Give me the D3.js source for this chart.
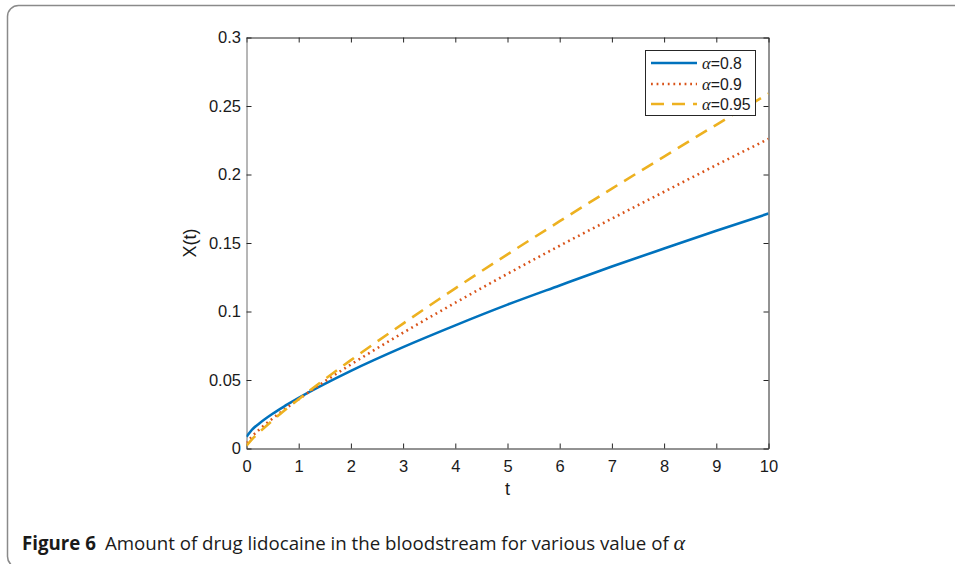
<!DOCTYPE html>
<html><head><meta charset="utf-8">
<script src="https://cdn.jsdelivr.net/npm/d3@7"></script>
<style>
body{margin:0;background:#fff;}
svg{display:block;}
</style></head>
<body>
<svg id="c" width="955" height="564"></svg>
<script>
const tValues = [0, 0.1, 0.25, 0.5, 0.75, 1, 1.5, 2, 3, 4, 5, 6, 7, 8, 9, 10];
const series08 = [0.0085, 0.0135, 0.0185, 0.0254, 0.0314, 0.037, 0.0472, 0.0567, 0.074, 0.0899, 0.105, 0.119, 0.1328, 0.146, 0.159, 0.1715];
const series09 = [0.004, 0.0086, 0.014, 0.0219, 0.0291, 0.036, 0.049, 0.0613, 0.0845, 0.1064, 0.1275, 0.148, 0.1678, 0.1874, 0.2069, 0.226];
const series095 = [0.002, 0.0065, 0.012, 0.0205, 0.0284, 0.036, 0.0506, 0.0645, 0.0912, 0.1169, 0.1417, 0.1659, 0.1897, 0.2131, 0.2363, 0.259];
const seriesNames = ["0.8", "0.9", "0.95"];
const xTicks = [0,1,2,3,4,5,6,7,8,9,10];
const yTicks = [0,0.05,0.1,0.15,0.2,0.25,0.3];
const yTickLabels = ["0","0.05","0.1","0.15","0.2","0.25","0.3"];

const svg = d3.select("#c");
const L = 246.5, R = 768.5, T = 37.5, B = 448.5;
const x = d3.scaleLinear().domain([0,10]).range([L,R]);
const y = d3.scaleLinear().domain([0,0.3]).range([B,T]);

// outer frame
svg.append("rect").attr("x",7.5).attr("y",5.5).attr("width",980).attr("height",562)
  .attr("rx",11).attr("fill","none").attr("stroke","#8a8a8a").attr("stroke-width",1.5);

const font = "'Liberation Sans', Arial, sans-serif";
const axCol = "#262626";
const tickFs = 16.5;

// axes
const xb = svg.append("g").attr("transform",`translate(0,${B})`)
  .call(d3.axisBottom(x).tickValues(xTicks).tickFormat(d3.format("d")).tickSizeInner(-5).tickSizeOuter(0).tickPadding(11.5));
const xt = svg.append("g").attr("transform",`translate(0,${T})`)
  .call(d3.axisTop(x).tickValues(xTicks).tickFormat("").tickSizeInner(-5).tickSizeOuter(0));
const yl = svg.append("g").attr("transform",`translate(${L},0)`)
  .call(d3.axisLeft(y).tickValues(yTicks).tickFormat((d,i)=>yTickLabels[i]).tickSizeInner(-5).tickSizeOuter(0).tickPadding(5.5));
const yr = svg.append("g").attr("transform",`translate(${R},0)`)
  .call(d3.axisRight(y).tickValues(yTicks).tickFormat("").tickSizeInner(-5).tickSizeOuter(0));
[xb,xt,yl,yr].forEach(g=>{
  g.attr("font-size",tickFs).attr("font-family",font);
  g.selectAll("path").attr("stroke",axCol).attr("stroke-width",1);
  g.selectAll("line").attr("stroke",axCol).attr("stroke-width",1);
  g.selectAll("text").attr("fill","#1a1a1a").attr("font-family",font).attr("font-size",tickFs);
});
yl.select("path").attr("stroke","#6e6e6e");

// axis labels
svg.append("text").attr("x",(L+R)/2).attr("y",495).attr("text-anchor","middle")
  .attr("font-family",font).attr("font-size",18).attr("fill","#1a1a1a").text("t");
svg.append("text").attr("transform",`translate(196,${(T+B)/2}) rotate(-90)`).attr("text-anchor","middle")
  .attr("font-family",font).attr("font-size",18).attr("fill","#1a1a1a").text("X(t)");

// lines
const styles = [
  {data:series08, color:"#0072BD", dash:null, w:2.6},
  {data:series09, color:"#D95319", dash:"1.8,3.8", w:2.6},
  {data:series095, color:"#EDB120", dash:"13,8", w:2.6}
];
const line = d3.line().x(d=>x(d[0])).y(d=>y(d[1])).curve(d3.curveMonotoneX);
svg.append("clipPath").attr("id","pc").append("rect").attr("x",L).attr("y",T).attr("width",R-L).attr("height",B-T);
styles.forEach(s=>{
  svg.append("path").datum(tValues.map((t,i)=>[t,s.data[i]]))
    .attr("d",line).attr("fill","none").attr("stroke",s.color).attr("stroke-width",s.w)
    .attr("stroke-dasharray",s.dash).attr("clip-path","url(#pc)");
});

// legend
const lg = svg.append("g");
lg.append("rect").attr("x",645.5).attr("y",50.5).attr("width",110).attr("height",65)
  .attr("fill","#fff").attr("stroke","#262626").attr("stroke-width",1);
const rows = [63,84,104];
styles.forEach((s,i)=>{
  lg.append("line").attr("x1",651).attr("x2",697).attr("y1",rows[i]).attr("y2",rows[i])
    .attr("stroke",s.color).attr("stroke-width",s.w).attr("stroke-dasharray",s.dash);
  const tx = lg.append("text").attr("x",702).attr("y",rows[i]+6).attr("fill","#1a1a1a")
    .attr("font-family",font).attr("font-size",15.8);
  tx.append("tspan").attr("font-family","'Liberation Serif','DejaVu Serif',serif").attr("font-style","italic").attr("font-size",16.5).text("α");
  tx.append("tspan").text("=" + seriesNames[i]);
});

// caption
const cap = svg.append("text").attr("x",22).attr("y",550).attr("fill","#1a1a1a")
  .attr("font-family","'Open Sans','Noto Sans',sans-serif").attr("font-size",18.7);
cap.append("tspan").attr("font-weight","bold").text("Figure 6");
cap.append("tspan").attr("dx",9).text("Amount of drug lidocaine in the bloodstream for various value of ");
cap.append("tspan").attr("font-family","'Liberation Serif','DejaVu Serif',serif").attr("font-style","italic").attr("font-size",22).text("α");
</script>
</body></html>
